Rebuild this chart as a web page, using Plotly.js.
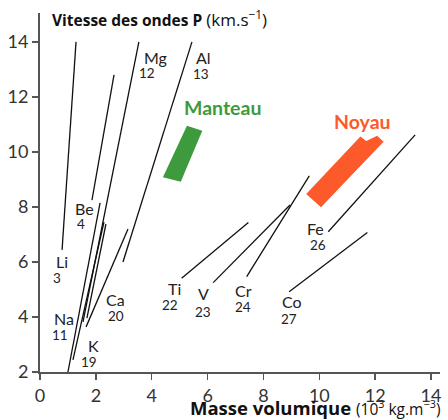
<!DOCTYPE html>
<html><head><meta charset="utf-8">
<script src="https://cdn.plot.ly/plotly-3.0.1.min.js"></script>
<style>body{margin:0;background:#fff}#c{width:448px;height:420px}</style>
</head><body><div id="c"></div>
<script>
// Lines (Birch diagram): density (10^3 kg/m^3) and P-wave velocity (km/s)
const lineNames  = ['Li','Be','K','Na','Na2','Mg','Ca','Al','Ti','V','Cr','Fe','Co'];
const rhoStart   = [0.79,1.86,1.00,1.18,1.68,1.54,1.65,2.97,5.07,6.20,7.40,10.32,8.92];
const vpStart    = [6.44,8.25,2.00,2.44,3.96,3.82,3.64,6.00,5.41,5.25,5.47,7.10,4.92];
const rhoEnd     = [1.29,2.65,2.15,2.29,2.36,3.54,3.15,5.44,7.46,8.95,9.64,13.43,11.72];
const vpEnd      = [14.0,12.8,8.15,7.45,7.38,14.0,7.20,14.0,7.43,8.07,9.13,10.62,7.07];

// Element labels
const symbols    = ['Li','Be','Mg','Al','Na','K','Ca','Ti','V','Cr','Co','Fe'];
const atomicNum  = ['3','4','12','13','11','19','20','22','23','24','27','26'];
const symRho     = [0.79,1.58,4.12,5.84,0.86,1.90,2.69,4.83,5.84,7.27,9.02,9.88];
const symVp      = [6.00,7.96,13.45,13.45,3.96,2.95,4.62,5.05,4.87,4.98,4.55,7.20];
const numRho     = [0.61,1.47,3.83,5.76,0.72,1.75,2.72,4.65,5.84,7.27,8.92,9.95];
const numVp      = [5.42,7.38,12.87,12.84,3.35,2.36,4.04,4.44,4.18,4.36,3.93,6.62];

// Domains
const mantleRho = [5.26,5.81,5.04,4.40];
const mantleVp  = [10.95,10.77,8.92,9.08];
const coreRho   = [9.53,11.47,11.68,12.07,12.30,10.06];
const coreVp    = [8.47,10.56,10.40,10.59,10.37,7.99];
const domainNames = ['Manteau','Noyau'];
const domainRho = [6.55,11.53];
const domainVp  = [11.6,11.09];

const F = 'Lato, "Liberation Sans", sans-serif';
const FT = '"Open Sans", "Liberation Sans", sans-serif';
const traces = [];
traces.push({x:mantleRho,y:mantleVp,type:'scatter',mode:'lines',fill:'toself',fillcolor:'#3d9a3d',line:{width:0,color:'#3d9a3d'},hoverinfo:'skip'});
traces.push({x:coreRho,y:coreVp,type:'scatter',mode:'lines',fill:'toself',fillcolor:'#fc5a2b',line:{width:0,color:'#fc5a2b'},hoverinfo:'skip'});
for(let i=0;i<lineNames.length;i++){
  traces.push({x:[rhoStart[i],rhoEnd[i]],y:[vpStart[i],vpEnd[i]],type:'scatter',mode:'lines',line:{color:'#111',width:1.3},hoverinfo:'skip'});
}
const ann = [];
for(let i=0;i<symbols.length;i++){
  ann.push({x:symRho[i],y:symVp[i],text:symbols[i],showarrow:false,font:{family:F,size:16,color:'#222'},xanchor:'center',yanchor:'middle'});
  ann.push({x:numRho[i],y:numVp[i],text:atomicNum[i],showarrow:false,font:{family:F,size:13.5,color:'#222'},xanchor:'center',yanchor:'middle'});
}
ann.push({x:domainRho[0],y:domainVp[0],text:'<b>'+domainNames[0]+'</b>',showarrow:false,font:{family:F,size:19.5,color:'#3d9a3d'}});
ann.push({x:domainRho[1],y:domainVp[1],text:'<b>'+domainNames[1]+'</b>',showarrow:false,font:{family:F,size:19.5,color:'#fc5a2b'}});
ann.push({xref:'paper',yref:'paper',x:0.025,y:0.985,xanchor:'left',yanchor:'middle',text:'<b>Vitesse des ondes P</b> <span style="font-size:17px">(km.s<sup>−1</sup>)</span>',showarrow:false,font:{family:FT,size:15.5,color:'#111'}});
ann.push({xref:'paper',yref:'paper',x:1.005,y:-0.1,xanchor:'right',yanchor:'middle',text:'<b>Masse volumique</b> <span style="font-size:15.5px">(10<sup>3</sup> kg.m<sup>−3</sup>)</span>',showarrow:false,font:{family:FT,size:18.5,color:'#111'}});

const layout = {
  width:448,height:420,margin:{l:40,r:8,t:13,b:48},
  paper_bgcolor:'#fff',plot_bgcolor:'#fff',showlegend:false,
  xaxis:{range:[0,14.32],tickvals:[0,2,4,6,8,10,12,14],showgrid:false,zeroline:false,showline:true,linecolor:'#555',linewidth:2,ticks:'outside',ticklen:6,tickwidth:1.5,tickcolor:'#555',tickfont:{family:F,size:18,color:'#333'}},
  yaxis:{range:[2,15.05],tickvals:[2,4,6,8,10,12,14],showgrid:false,zeroline:false,showline:true,linecolor:'#555',linewidth:2,ticks:'outside',ticklen:6,tickwidth:1.5,tickcolor:'#555',tickfont:{family:F,size:18,color:'#333'}},
  annotations:ann
};
Plotly.newPlot('c',traces,layout,{displayModeBar:false,staticPlot:true});
</script></body></html>
